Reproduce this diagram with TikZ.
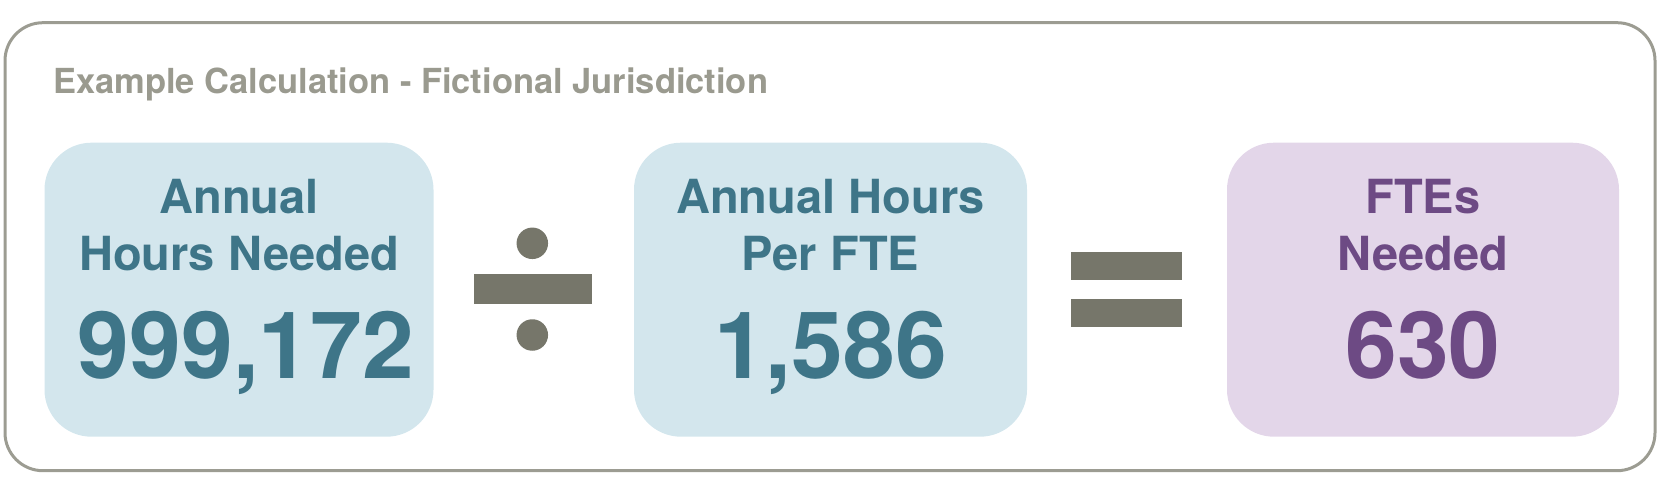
\documentclass[tikz,border=0pt]{standalone}
\usepackage{fontspec}
\setmainfont{TeX Gyre Heros}
\definecolor{framegray}{HTML}{9C9C92}
\definecolor{titlegray}{HTML}{9A9A8F}
\definecolor{opgray}{HTML}{76766A}
\definecolor{bluefill}{HTML}{D3E6ED}
\definecolor{bluetext}{HTML}{3E7588}
\definecolor{purplefill}{HTML}{E3D6E9}
\definecolor{purpletext}{HTML}{6D4A84}
\tikzset{
  card/.style={rounded corners=47pt, inner sep=0pt, minimum height=294pt},
  bluecard/.style={card, fill=bluefill},
  purplecard/.style={card, fill=purplefill},
  labeltext/.style={anchor=base, inner sep=0pt, font=\fontsize{47}{47}\selectfont\bfseries},
  numtext/.style={anchor=base, inner sep=0pt, font=\fontsize{93}{93}\selectfont\bfseries},
  opbar/.style={rectangle, fill=opgray, inner sep=0pt},
  opdot/.style={circle, fill=opgray, inner sep=0pt, minimum size=31.5pt},
}
\begin{document}
\begin{tikzpicture}[x=1pt,y=-1pt]
\useasboundingbox (0,0) rectangle (1664,497);
% outer frame
\draw[framegray, line width=3pt, rounded corners=38pt] (5,22.7) rectangle (1655,470.7);
\node[anchor=base west, inner sep=0pt, text=titlegray, font=\fontsize{34.5}{34.5}\selectfont\bfseries] (title) at (53,94) {Example Calculation - Fictional Jurisdiction};
% cards
\node[bluecard, minimum width=389pt] (c1) at (239,289.7) {};
\node[bluecard, minimum width=393pt] (c2) at (830.5,289.7) {};
\node[purplecard, minimum width=392pt] (c3) at (1423,289.7) {};
% card 1 texts
\node[labeltext, text=bluetext] (c1a) at (239,213) {Annual};
\node[labeltext, text=bluetext] (c1b) at (239,270) {Hours Needed};
\node[numtext, text=bluetext] (c1n) at (246,378) {999,172};
% card 2 texts
\node[labeltext, text=bluetext] (c2a) at (830.5,213) {Annual Hours};
\node[labeltext, text=bluetext] (c2b) at (830.5,270) {Per FTE};
\node[numtext, text=bluetext] (c2n) at (830.5,378) {1,586};
% card 3 texts
\node[labeltext, text=purpletext] (c3a) at (1423,213) {FTEs};
\node[labeltext, text=purpletext] (c3b) at (1423,270) {Needed};
\node[numtext, text=purpletext] (c3n) at (1423,378) {630};
% divide sign
\node[opbar, minimum width=118pt, minimum height=30.3pt] (divbar) at (533.3,289.2) {};
\node[opdot] (divtop) at (532.3,243.3) {};
\node[opdot] (divbot) at (532.3,335) {};
% equals sign
\node[opbar, minimum width=111.3pt, minimum height=27.4pt] (eqtop) at (1126.6,266) {};
\node[opbar, minimum width=111.3pt, minimum height=27.7pt] (eqbot) at (1126.6,312.8) {};
\end{tikzpicture}
\end{document}
